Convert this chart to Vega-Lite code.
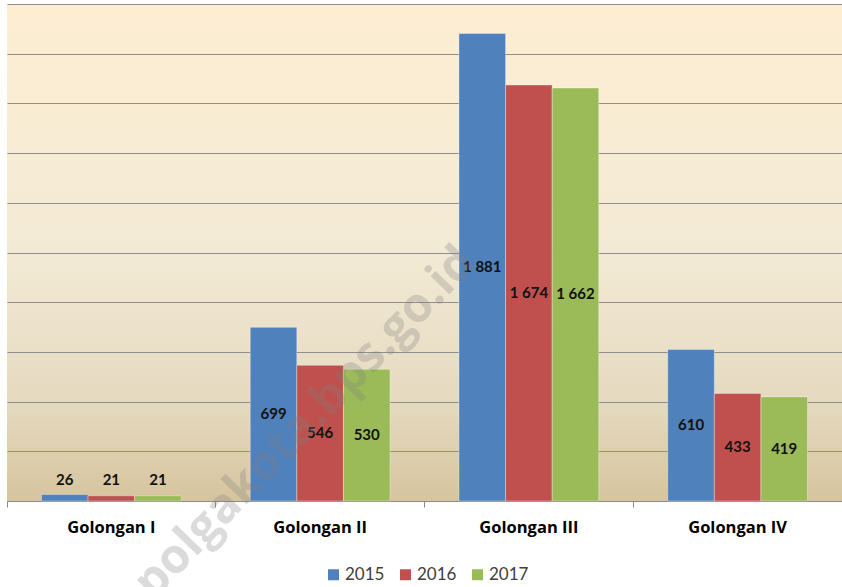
{
  "$schema": "https://vega.github.io/schema/vega-lite/v6.json",
  "width": 835,
  "height": 497,
  "autosize": "none",
  "padding": {"left": 7, "top": 4, "right": 0, "bottom": 86},
  "background": "white",
  "config": {
    "view": {
      "stroke": null,
      "fill": {
        "gradient": "linear", "x1": 0, "y1": 0, "x2": 0, "y2": 1,
        "stops": [
          {"offset": 0, "color": "#FDEED2"},
          {"offset": 0.5, "color": "#F3EAD5"},
          {"offset": 0.8, "color": "#E5DAC0"},
          {"offset": 1, "color": "#D6C49E"}
        ]
      }
    },
    "locale": {"number": {"decimal": ",", "thousands": " ", "grouping": [3], "currency": ["", ""]}},
    "font": "Lato"
  },
  "data": {
    "values": [
      {"g": "Golongan I", "yr": "2015", "v": 26},
      {"g": "Golongan I", "yr": "2016", "v": 21},
      {"g": "Golongan I", "yr": "2017", "v": 21},
      {"g": "Golongan II", "yr": "2015", "v": 699},
      {"g": "Golongan II", "yr": "2016", "v": 546},
      {"g": "Golongan II", "yr": "2017", "v": 530},
      {"g": "Golongan III", "yr": "2015", "v": 1881},
      {"g": "Golongan III", "yr": "2016", "v": 1674},
      {"g": "Golongan III", "yr": "2017", "v": 1662},
      {"g": "Golongan IV", "yr": "2015", "v": 610},
      {"g": "Golongan IV", "yr": "2016", "v": 433},
      {"g": "Golongan IV", "yr": "2017", "v": 419}
    ]
  },
  "layer": [
    {
      "mark": {"type": "bar", "stroke": "#ffffff", "strokeOpacity": 0.35, "strokeWidth": 1},
      "encoding": {
        "x": {
          "field": "g", "type": "nominal",
          "scale": {"domain": ["Golongan I", "Golongan II", "Golongan III", "Golongan IV"], "paddingInner": 0, "paddingOuter": 0},
          "axis": {"title": null, "labelAngle": 0, "bandPosition": 0, "labelFont": "Open Sans", "labelFontSize": 16.5, "labelFontWeight": "bold", "labelColor": "#000000", "domainColor": "#8a8a8a", "tickColor": "#8a8a8a", "tickSize": 6, "labelPadding": 12, "grid": false}
        },
        "xOffset": {"field": "yr", "type": "nominal", "scale": {"paddingInner": 0, "paddingOuter": 0.74}},
        "y": {
          "field": "v", "type": "quantitative",
          "scale": {"domain": [0, 2000], "nice": false},
          "axis": {"title": null, "values": [0, 200, 400, 600, 800, 1000, 1200, 1400, 1600, 1800, 2000], "labels": false, "ticks": false, "domain": false, "grid": true, "gridColor": "#8e8e8e", "gridWidth": 1}
        },
        "color": {
          "field": "yr", "type": "nominal",
          "scale": {"domain": ["2015", "2016", "2017"], "range": ["#4F81BD", "#C0504D", "#9BBB59"]},
          "legend": {"title": null, "orient": "none", "direction": "horizontal", "legendX": 318, "legendY": 562, "symbolType": "square", "symbolSize": 121, "symbolStrokeWidth": 0, "labelFontSize": 17, "labelColor": "#404040", "labelOffset": 3, "columnPadding": 12}
        }
      }
    },
    {
      "transform": [{"calculate": "max(datum.v / 2, 85)", "as": "mid"}],
      "mark": {"type": "text", "fontSize": 15, "fontWeight": "bold", "color": "#111111", "baseline": "middle"},
      "encoding": {
        "x": {"field": "g", "type": "nominal"},
        "xOffset": {"field": "yr", "type": "nominal"},
        "y": {"field": "mid", "type": "quantitative"},
        "text": {"field": "v", "type": "quantitative", "format": ",d"}
      }
    },
    {
      "data": {"values": [{"t": "polgakota.bps.go.id"}]},
      "mark": {"type": "text", "angle": -46, "fontSize": 48, "fontWeight": "bold", "font": "Open Sans", "fill": "#808080", "opacity": 0.28, "dx": -21, "align": "center", "baseline": "middle"},
      "encoding": {
        "x": {"datum": "Golongan II", "type": "nominal"},
        "y": {"datum": 374, "type": "quantitative"},
        "text": {"field": "t"}
      }
    }
  ]
}
